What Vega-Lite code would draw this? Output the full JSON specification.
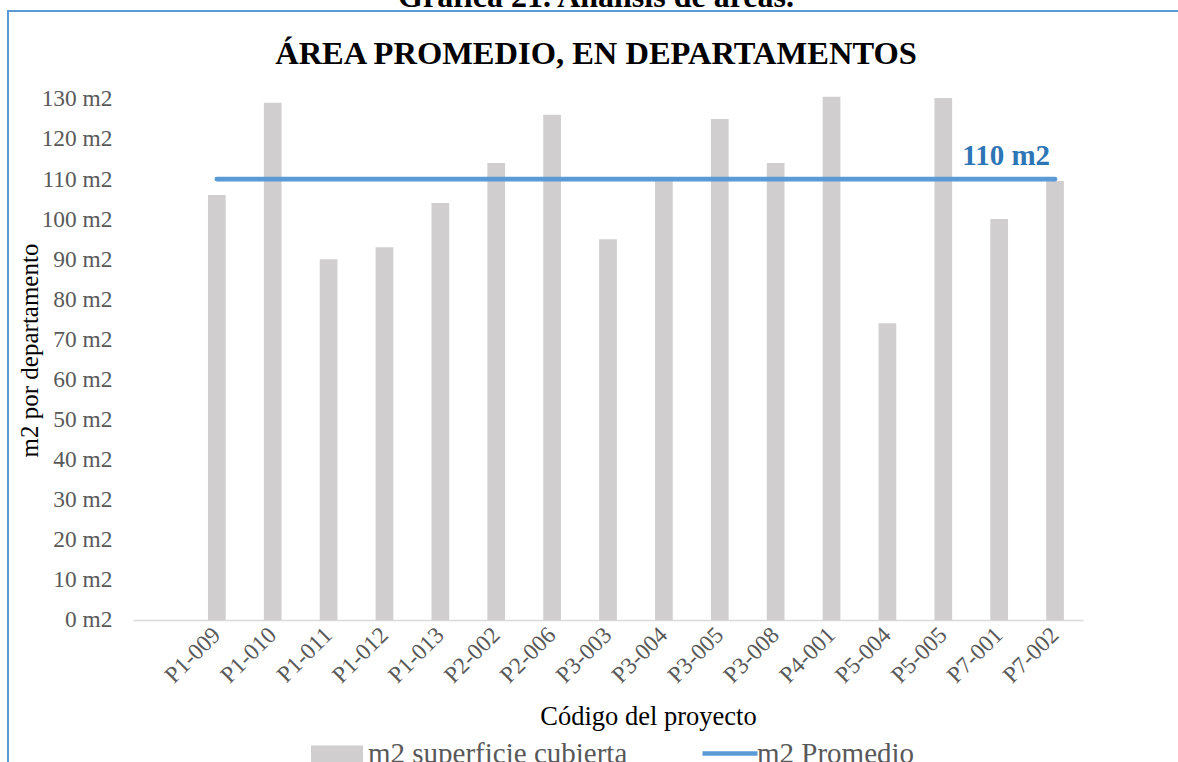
{
  "$schema": "https://vega.github.io/schema/vega-lite/v6.json",
  "width": 1172,
  "height": 753,
  "autosize": {"type": "none"},
  "padding": {"left": 8, "top": 11, "right": -2, "bottom": -2},
  "background": "white",
  "config": {
    "view": {"stroke": "#5B9BD5", "strokeWidth": 2, "fill": "white"},
    "font": "Liberation Serif"
  },
  "title": {
    "text": "Gráfica 21. Análisis de áreas.",
    "subtitle": "ÁREA PROMEDIO, EN DEPARTAMENTOS",
    "anchor": "middle",
    "frame": "group",
    "dx": 2,
    "font": "Liberation Serif",
    "fontSize": 32,
    "fontWeight": "bold",
    "color": "black",
    "subtitleFont": "Liberation Serif",
    "subtitleFontSize": 32.5,
    "subtitleFontWeight": "bold",
    "subtitleColor": "black",
    "subtitlePadding": 24,
    "offset": -60
  },
  "data": {
    "values": [
      {"codigo": "P1-009", "m2": 106, "promedio": 110},
      {"codigo": "P1-010", "m2": 129, "promedio": 110},
      {"codigo": "P1-011", "m2": 90, "promedio": 110},
      {"codigo": "P1-012", "m2": 93, "promedio": 110},
      {"codigo": "P1-013", "m2": 104, "promedio": 110},
      {"codigo": "P2-002", "m2": 114, "promedio": 110},
      {"codigo": "P2-006", "m2": 126, "promedio": 110},
      {"codigo": "P3-003", "m2": 95, "promedio": 110},
      {"codigo": "P3-004", "m2": 109.5, "promedio": 110},
      {"codigo": "P3-005", "m2": 125, "promedio": 110},
      {"codigo": "P3-008", "m2": 114, "promedio": 110},
      {"codigo": "P4-001", "m2": 130.5, "promedio": 110},
      {"codigo": "P5-004", "m2": 74, "promedio": 110},
      {"codigo": "P5-005", "m2": 130.2, "promedio": 110},
      {"codigo": "P7-001", "m2": 100, "promedio": 110},
      {"codigo": "P7-002", "m2": 109.5, "promedio": 110, "etiqueta": "110 m2"}
    ]
  },
  "encoding": {
    "x": {
      "field": "codigo",
      "type": "nominal",
      "sort": null,
      "scale": {
        "type": "band",
        "domain": ["", "P1-009", "P1-010", "P1-011", "P1-012", "P1-013", "P2-002", "P2-006", "P3-003", "P3-004", "P3-005", "P3-008", "P4-001", "P5-004", "P5-005", "P7-001", "P7-002"],
        "range": [125, 1075],
        "paddingInner": 0.683,
        "paddingOuter": 0.3415
      },
      "axis": {
        "orient": "bottom",
        "offset": -144,
        "domain": true,
        "domainColor": "#D9D9D9",
        "domainWidth": 1.5,
        "ticks": false,
        "tickSize": 0,
        "grid": false,
        "labelAngle": -45,
        "labelAlign": "right",
        "labelBaseline": "middle",
        "labelPadding": 11,
        "labelFont": "Liberation Serif",
        "labelFontSize": 23.4,
        "labelColor": "#595959",
        "labelOverlap": false,
        "title": "Código del proyecto",
        "titleFont": "Liberation Serif",
        "titleFontSize": 26.5,
        "titleFontWeight": "normal",
        "titleColor": "black",
        "titleX": 640,
        "titleY": 104,
        "titleAlign": "center",
        "titleBaseline": "alphabetic"
      }
    }
  },
  "layer": [
    {
      "mark": {"type": "bar"},
      "encoding": {
        "y": {
          "field": "m2",
          "type": "quantitative",
          "title": "m2 por departamento",
          "scale": {"domain": [-35.92, 151.91], "nice": false, "zero": false},
          "axis": {
            "values": [0, 10, 20, 30, 40, 50, 60, 70, 80, 90, 100, 110, 120, 130],
            "labelExpr": "datum.value + ' m2'",
            "domain": false,
            "ticks": false,
            "tickSize": 0,
            "grid": false,
            "labelPadding": 0,
            "offset": -104,
            "labelFont": "Liberation Serif",
            "labelFontSize": 23.4,
            "labelColor": "#595959",
            "labelOverlap": false,
            "labelFlush": false,
            "title": "m2 por departamento",
            "titleFont": "Liberation Serif",
            "titleFontSize": 25,
            "titleFontWeight": "normal",
            "titleColor": "black",
            "titleAngle": -90,
            "titleX": -83,
            "titleY": 339,
            "titleAlign": "center",
            "titleBaseline": "middle"
          }
        },
        "y2": {"datum": 0},
        "fill": {
          "datum": "m2 superficie cubierta",
          "type": "nominal",
          "scale": {"range": ["#D0CECE"]},
          "legend": {
            "orient": "none",
            "legendX": 303,
            "legendY": 717,
            "title": null,
            "padding": 0,
            "symbolType": "M-1,-0.327H1V0.327H-1Z",
            "symbolSize": 2704,
            "symbolStrokeWidth": 0,
            "labelFont": "Liberation Serif",
            "labelFontSize": 29,
            "labelColor": "#595959",
            "labelOffset": 5,
            "labelLimit": 600
          }
        }
      }
    },
    {
      "mark": {"type": "line", "strokeWidth": 4.75, "strokeCap": "round"},
      "encoding": {
        "y": {"field": "promedio", "type": "quantitative", "title": "m2 por departamento"},
        "stroke": {
          "datum": "m2 Promedio",
          "type": "nominal",
          "scale": {"range": ["#5B9BD5"]},
          "legend": {
            "orient": "none",
            "legendX": 692,
            "legendY": 712.5,
            "title": null,
            "padding": 0,
            "symbolType": "stroke",
            "symbolSize": 3025,
            "symbolStrokeWidth": 4.5,
            "labelFont": "Liberation Serif",
            "labelFontSize": 29,
            "labelColor": "#595959",
            "labelOffset": -3,
            "labelLimit": 600
          }
        }
      }
    },
    {
      "transform": [{"filter": "datum.etiqueta != null"}],
      "mark": {
        "type": "text",
        "align": "right",
        "baseline": "alphabetic",
        "dx": -5,
        "dy": -14,
        "font": "Liberation Serif",
        "fontSize": 29,
        "fontWeight": "bold",
        "color": "#2E75B6"
      },
      "encoding": {
        "y": {"field": "promedio", "type": "quantitative", "title": "m2 por departamento"},
        "text": {"field": "etiqueta"}
      }
    }
  ]
}
